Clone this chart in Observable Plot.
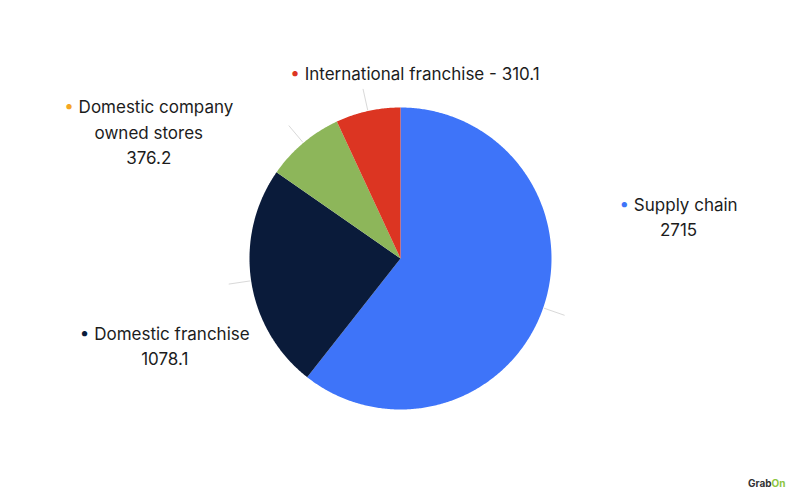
<!DOCTYPE html>
<html><head><meta charset="utf-8">
<script src="https://cdn.jsdelivr.net/npm/d3@7"></script>
<script src="https://cdn.jsdelivr.net/npm/@observablehq/plot@0.6"></script>
<style>body{margin:0;background:#fff;}</style>
</head><body><div id="chart"></div>
<script>
// ---- data ----
const categories = ["Supply chain", "Domestic franchise", "Domestic company owned stores", "International franchise"];
const values = [2715, 1078.1, 376.2, 310.1];
const labelTexts = ["• Supply chain\n2715", "• Domestic franchise\n1078.1", "• Domestic company\nowned stores\n376.2", "• International franchise - 310.1"];

// ---- styles / layout ----
const sliceColors = ["#3e74f9", "#0a1b3a", "#8db65a", "#dc3522"];
const bulletColors = ["#3e74f9", "#0a1b3a", "#f5a623", "#dc3522"];
const labelOffsets = [{dx: 114, dy: -100}, {dx: -64, dy: 60}, {dx: -140, dy: 5}, {dx: 52, dy: -17}];
const W = 800, H = 498, R = 151, CX = 400, CY = 258;

const rows = categories.map((c, i) => ({category: c, value: values[i], label: labelTexts[i]}));
const arcs = d3.pie().sort(null).value(d => d.value)(rows);

// slice outlines in unit-circle space
const slicePts = arcs.flatMap(a => {
  const n = Math.max(2, Math.ceil((a.endAngle - a.startAngle) / (Math.PI / 360)));
  const pts = [{category: a.data.category, x: 0, y: 0}];
  for (let k = 0; k <= n; k++) {
    const t = a.startAngle + (a.endAngle - a.startAngle) * k / n;
    pts.push({category: a.data.category, x: Math.sin(t), y: Math.cos(t)});
  }
  pts.push({category: a.data.category, x: 0, y: 0});
  return pts;
});

const leaders = arcs.map(a => {
  const m = (a.startAngle + a.endAngle) / 2;
  return {category: a.data.category, label: a.data.label,
    x1: Math.sin(m) * 1.005, y1: Math.cos(m) * 1.005,
    x2: Math.sin(m) * 1.15, y2: Math.cos(m) * 1.15};
});

const font = "Inter, 'Noto Sans', sans-serif";

const svg = Plot.plot({
  width: W, height: H, margin: 0,
  style: {background: "#fff", fontFamily: font, overflow: "visible"},
  x: {domain: [-CX / R, (W - CX) / R], axis: null},
  y: {domain: [-(H - CY) / R, CY / R], axis: null},
  color: {domain: categories, range: sliceColors},
  marks: [
    Plot.line(slicePts, {x: "x", y: "y", z: "category", fill: "category", stroke: null, curve: "linear"}),
    Plot.link(leaders, {x1: "x1", y1: "y1", x2: "x2", y2: "y2", stroke: "#d9d9d9", strokeWidth: 1}),
    ...leaders.map((d, i) => Plot.text([d], {
      x: "x2", y: "y2", text: "label",
      dx: labelOffsets[i].dx, dy: labelOffsets[i].dy,
      textAnchor: "middle", lineAnchor: "middle", lineHeight: 1.5,
      fontSize: 17, fill: "#1c1c1c", fontFamily: font
    })),
    Plot.text(["GrabOn"], {frameAnchor: "bottom-right", dx: -15, dy: -12, fontSize: 10, fontWeight: 700, fill: "#333", fontFamily: font})
  ]
});

const NS = "http://www.w3.org/2000/svg";
svg.querySelectorAll("text").forEach(t => {
  const first = t.querySelector("tspan") || t;
  const s = first.textContent;
  if (s.startsWith("•")) {
    const idx = labelTexts.findIndex(l => l.split("\n")[0] === s);
    first.textContent = "";
    const b = document.createElementNS(NS, "tspan");
    b.setAttribute("fill", bulletColors[idx]);
    b.textContent = "•";
    first.appendChild(b);
    first.appendChild(document.createTextNode(s.slice(1)));
  } else if (s === "GrabOn") {
    t.textContent = "Grab";
    const o = document.createElementNS(NS, "tspan");
    o.setAttribute("fill", "#8cc63f");
    o.textContent = "On";
    t.appendChild(o);
  }
});

document.getElementById("chart").appendChild(svg);
</script>
</body></html>
